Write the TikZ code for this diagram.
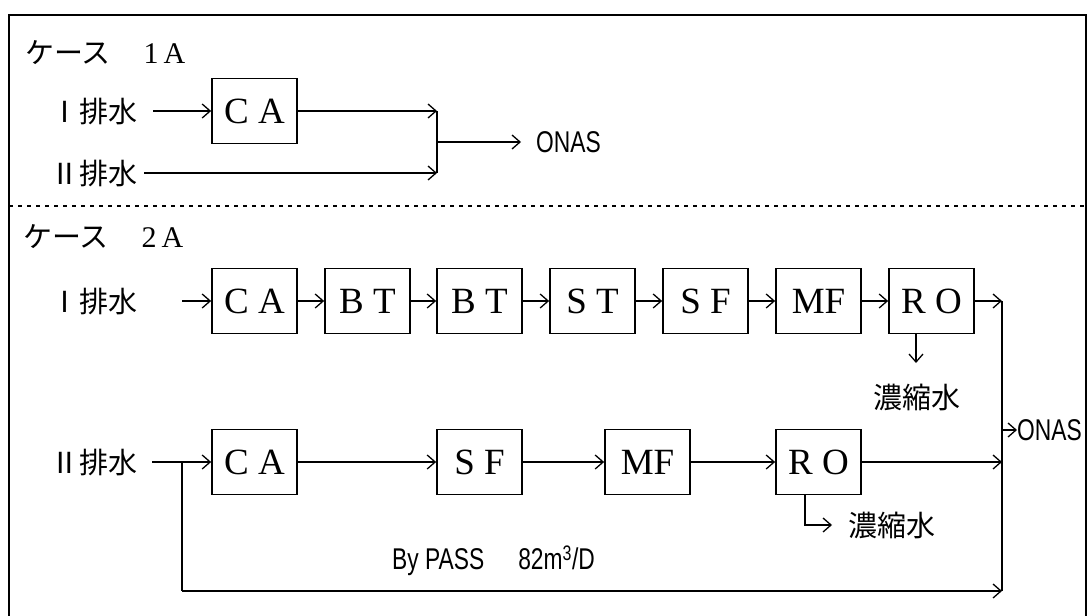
\documentclass[tikz,border=0pt]{standalone}
\usepackage{fontspec}
\setmainfont{Liberation Serif}
\newfontfamily\jpfont{Noto Sans CJK JP}
\newfontfamily\condfont[FakeStretch=0.76]{Liberation Sans}
\usetikzlibrary{arrows.meta}
\begin{document}
\begin{tikzpicture}[x=1pt,y=-1pt,
  ln/.style={line width=1.5pt},
  arr/.style={line width=1.5pt,-{Straight Barb[length=8pt,width=14pt,line width=1.3pt]}},
  procbox/.style={draw,line width=1.7pt,minimum width=85pt,minimum height=65pt,inner sep=0pt,font=\fontsize{37}{37}\selectfont},
  jp/.style={inner sep=0pt,font=\jpfont\fontsize{29}{29}\selectfont},
  cond/.style={inner sep=0pt,font=\condfont\fontsize{30}{30}\selectfont},
  title/.style={inner sep=0pt,font=\fontsize{30}{30}\selectfont}
]
\useasboundingbox (0,0) rectangle (1088,616);
% frame
\draw[ln] (9,616) -- (9,15) -- (1086,15) -- (1086,616);
\draw[line width=1.2pt,dash pattern=on 4pt off 5pt] (9,206) -- (1086,206);

% ---------- case 1A ----------
\node[title,anchor=west] (t1) at (25,53) {{\jpfont\fontsize{29}{29}\selectfont ケース}\hspace{33pt}1\hspace{5pt}A};
\node[jp,anchor=east] (l1a) at (138,111) {Ⅰ排水};
\node[jp,anchor=east] (l1b) at (138,173) {Ⅱ排水};
\node[procbox] (ca0) at (254.5,111) {C A};
\coordinate (s1a) at (153,111);
\coordinate (s1b) at (144,173);
\coordinate (m1a) at (437,111);
\coordinate (m1b) at (437,173);
\coordinate (m1c) at (437,142);
\coordinate (o1) at (521,142);
\node[cond,anchor=west] (onas1) at (536,142) {ONAS};
\draw[arr] (s1a) -- (ca0.west);
\draw[arr] (ca0.east) -- (m1a);
\draw[arr] (s1b) -- (m1b);
\draw[ln] (m1a) -- (m1b);
\draw[arr] (m1c) -- (o1);

% ---------- case 2A ----------
\node[title,anchor=west] (t2) at (23,237) {{\jpfont\fontsize{29}{29}\selectfont ケース}\hspace{33pt}2\hspace{5pt}A};

% row I
\node[jp,anchor=east] (l2a) at (138,301) {Ⅰ排水};
\node[procbox] (ca1) at (254.5,301) {C A};
\node[procbox] (bt1) at (367.5,301) {B T};
\node[procbox] (bt2) at (479.5,301) {B T};
\node[procbox] (st1) at (592.5,301) {S T};
\node[procbox] (sf1) at (705.5,301) {S F};
\node[procbox] (mf1) at (818.5,301) {MF};
\node[procbox] (ro1) at (931.5,301) {R O};
\coordinate (s2a) at (182,301);
\draw[arr] (s2a) -- (ca1.west);
\draw[arr] (ca1.east) -- (bt1.west);
\draw[arr] (bt1.east) -- (bt2.west);
\draw[arr] (bt2.east) -- (st1.west);
\draw[arr] (st1.east) -- (sf1.west);
\draw[arr] (sf1.east) -- (mf1.west);
\draw[arr] (mf1.east) -- (ro1.west);

\coordinate (j1) at (1002,301);
\coordinate (j2) at (1002,462);
\coordinate (j3) at (1002,591);
\coordinate (j4) at (1002,430);
\draw[arr] (ro1.east) -- (j1);
\draw[ln] (j1) -- (j3);
\node[cond,anchor=west] (onas2) at (1017,430) {ONAS};
\draw[arr] (j4) -- (onas2.west);

% drain I
\coordinate (d1) at (916,363);
\draw[arr] (ro1.south -| d1) -- (d1);
\node[jp] (c1) at (917,397) {濃縮水};

% row II
\node[jp,anchor=east] (l2b) at (138,462) {Ⅱ排水};
\node[procbox] (ca2) at (254.5,462) {C A};
\node[procbox] (sf2) at (479.5,462) {S F};
\node[procbox] (mf2) at (647.5,462) {MF};
\node[procbox] (ro2) at (818.5,462) {R O};
\coordinate (s2b) at (152,462);
\coordinate (bp1) at (182,462);
\coordinate (bp2) at (182,591);
\draw[arr] (s2b) -- (ca2.west);
\draw[arr] (ca2.east) -- (sf2.west);
\draw[arr] (sf2.east) -- (mf2.west);
\draw[arr] (mf2.east) -- (ro2.west);
\draw[arr] (ro2.east) -- (j2);
\draw[ln] (bp1) -- (bp2);
\draw[arr] (bp2) -- (j3);

% drain II
\coordinate (d2a) at (805,525);
\coordinate (d2b) at (832,525);
\draw[arr] (ro2.south -| d2a) -- (d2a) -- (d2b);
\node[jp,anchor=west] (c2) at (848,525) {濃縮水};

% bypass label
\node[cond,anchor=west] (bypass) at (392,561) {By PASS\hspace{34pt}82m\textsuperscript{3}/D};
\end{tikzpicture}
\end{document}
